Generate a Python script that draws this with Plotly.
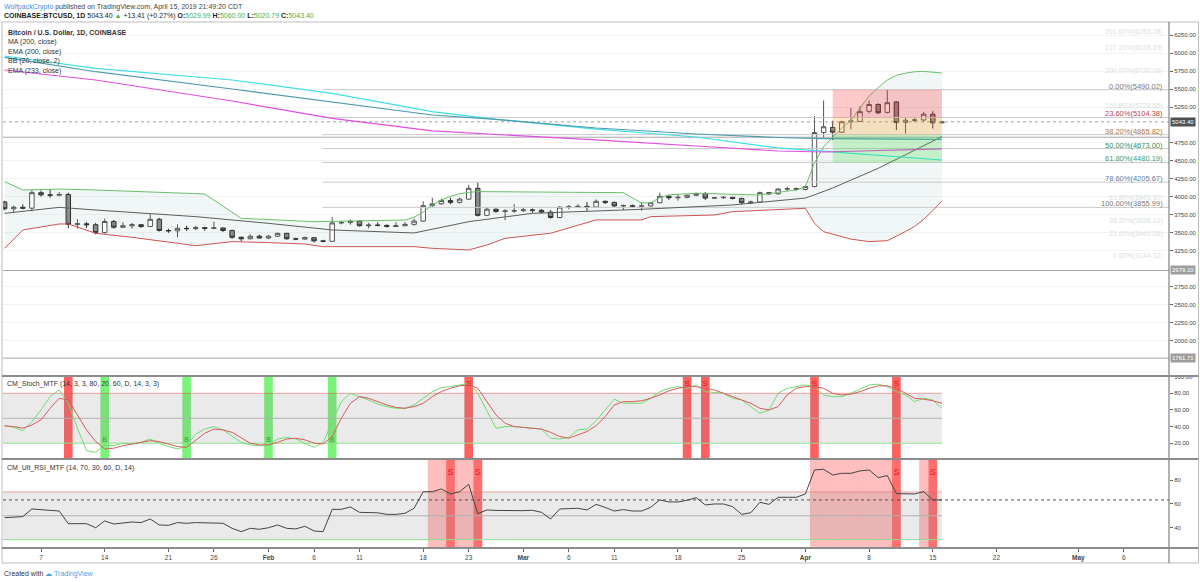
import plotly.graph_objects as go
import pandas as pd

FONT = "Liberation Sans, Arial, sans-serif"

# ------------------------------------------------------------------ data
DATES = pd.date_range("2019-01-03", "2019-04-16", freq="D").strftime("%Y-%m-%d").tolist()

OPEN = [
    3931, 3836, 3857, 3845, 4060, 4030, 4025, 4035, 3620, 3628, 3615, 3505, 3660, 3580, 3600,
    3615, 3590, 3690, 3535, 3530, 3565, 3560, 3575, 3565, 3570, 3535, 3440, 3420, 3455,
    3430, 3455, 3495, 3420, 3415, 3435, 3390, 3385, 3640, 3645, 3665, 3600, 3610, 3605,
    3590, 3600, 3620, 3665, 3880, 3905, 3950, 3925, 3970, 4120, 3745, 3830, 3800, 3805,
    3810, 3820, 3815, 3790, 3715, 3860, 3865, 3870, 3860, 3940, 3925, 3875, 3880, 3870, 3875,
    3920, 4010, 3990, 3995, 4025, 4045, 3985, 3990, 3995, 3980, 3920, 3930, 4060, 4045, 4110, 4115,
    4105, 4145, 4895, 4965, 4900, 5045, 5050, 5190, 5285, 5175, 5320, 5035, 5065, 5070, 5150, 5029.99,
]
HIGH = [
    3947, 3880, 3900, 4095, 4090, 4110, 4070, 4060, 3690, 3650, 3640, 3700, 3680, 3650, 3640,
    3625, 3760, 3710, 3560, 3620, 3600, 3600, 3585, 3660, 3580, 3545, 3450, 3480, 3475,
    3470, 3505, 3500, 3435, 3450, 3440, 3405, 3720, 3670, 3685, 3670, 3640, 3650, 3620,
    3650, 3650, 3700, 3940, 3990, 3980, 3990, 3990, 4170, 4200, 3860, 3840, 3830, 3900,
    3850, 3840, 3830, 3815, 3875, 3890, 3900, 3930, 3965, 3950, 3935, 3895, 3895, 3930, 3930,
    4060, 4020, 4040, 4030, 4060, 4070, 4000, 4010, 4000, 3990, 3950, 4075, 4070, 4125, 4140, 4130,
    4160, 5125, 5340, 5060, 5060, 5235, 5260, 5340, 5300, 5490, 5330, 5100, 5110, 5180, 5190, 5060.00,
]
LOW = [
    3817, 3790, 3830, 3800, 4005, 3990, 4010, 3565, 3560, 3570, 3480, 3490, 3560, 3570, 3560,
    3570, 3585, 3520, 3500, 3440, 3530, 3540, 3530, 3555, 3515, 3420, 3385, 3410, 3425,
    3415, 3445, 3405, 3400, 3405, 3370, 3370, 3375, 3620, 3615, 3590, 3565, 3590, 3575,
    3585, 3595, 3600, 3660, 3860, 3890, 3900, 3910, 3960, 3730, 3735, 3780, 3680, 3780,
    3795, 3780, 3770, 3700, 3705, 3830, 3850, 3800, 3855, 3900, 3860, 3820, 3850, 3810, 3865,
    3910, 3960, 3950, 3980, 4010, 3960, 3970, 3975, 3965, 3900, 3900, 3920, 4030, 4030, 4080, 4090,
    4090, 4135, 4810, 4790, 4890, 4940, 5045, 5160, 5150, 5160, 4930, 4880, 5040, 5040, 4950, 5020.79,
]
CLOSE = [
    3836, 3857, 3845, 4060, 4030, 4025, 4035, 3620, 3628, 3615, 3505, 3660, 3580, 3600, 3615,
    3590, 3690, 3535, 3530, 3565, 3560, 3575, 3565, 3570, 3535, 3440, 3420, 3455, 3430,
    3455, 3495, 3420, 3415, 3435, 3390, 3385, 3640, 3645, 3665, 3600, 3610, 3605, 3590,
    3600, 3620, 3665, 3880, 3905, 3950, 3925, 3970, 4120, 3745, 3830, 3800, 3805, 3810,
    3820, 3815, 3790, 3715, 3860, 3865, 3870, 3860, 3940, 3925, 3875, 3880, 3870, 3875, 3920,
    4010, 3990, 3995, 4025, 4045, 3985, 3990, 3995, 3980, 3920, 3930, 4060, 4045, 4110, 4115, 4105,
    4145, 4895, 4975, 4900, 5045, 5055, 5185, 5285, 5170, 5310, 5035, 5065, 5070, 5150, 5029.99, 5043.40,
]

STOCH_K = [
    41, 39, 35, 46, 60, 76, 84, 68, 38, 11, 9, 18, 17, 20, 19, 21, 25, 20, 16, 13, 17, 31, 37, 40, 36, 28, 21, 18, 17,
    18, 25, 27, 25, 20, 15, 21, 46, 70, 80, 76, 72, 67, 64, 62, 62, 66, 74, 82, 87, 88, 90, 92, 80, 58, 38, 40, 40,
    39, 38, 37, 26, 25, 27, 36, 37, 47, 60, 73, 68, 68, 68, 74, 82, 86, 88, 86, 90, 82, 81, 80, 74, 72, 64, 56, 60, 80, 86, 88,
    90, 88, 78, 76, 76, 80, 85, 90, 91, 88, 82, 78, 70, 74, 72, 62,
]
STOCH_D = [
    41, 40, 38, 42, 48, 62, 74, 72, 54, 36, 22, 13, 14, 17, 19, 21, 23, 22, 19, 16, 15, 23, 32, 37, 36, 33, 27, 20, 18,
    18, 21, 25, 26, 24, 20, 19, 28, 50, 68, 76, 74, 70, 66, 63, 62, 64, 68, 76, 82, 86, 89, 90, 86, 70, 54, 44, 40,
    39, 38, 37, 33, 28, 26, 30, 34, 41, 52, 66, 70, 70, 71, 74, 78, 83, 86, 88, 88, 86, 84, 80, 76, 72, 68, 62, 60, 64, 78, 86,
    88, 88, 86, 80, 78, 79, 82, 86, 89, 89, 86, 80, 74, 73, 71, 68,
]
RSI = [
    48.4, 48.8, 49.3, 55.7, 55.0, 54.6, 54.0, 43.4, 43.4, 43.4, 40.0, 45.7, 43.1, 44.0, 44.8,
    44.3, 47.3, 42.3, 42.0, 44.3, 43.7, 44.3, 44.0, 43.9, 43.7, 39.5, 36.7, 39.5, 38.7,
    40.0, 42.3, 39.5, 39.0, 41.2, 37.3, 36.7, 55.4, 55.4, 57.4, 52.9, 52.9, 52.5, 51.2,
    51.2, 52.1, 56.3, 70.2, 70.2, 72.5, 68.3, 70.2, 76.4, 51.8, 54.9, 54.5, 54.3, 54.0,
    54.3, 54.6, 52.9, 47.3, 55.7, 56.0, 56.3, 54.9, 59.6, 57.0, 54.0, 55.2, 54.0, 54.0, 57.1,
    63.3, 61.6, 61.6, 63.0, 65.2, 59.1, 59.9, 59.9, 57.7, 51.2, 52.6, 61.3, 59.6, 65.5, 65.5, 65.5,
    68.3, 88.4, 89.0, 84.2, 85.6, 85.6, 87.6, 88.4, 82.0, 83.7, 68.6, 68.3, 68.3, 70.2, 63.3, 63.3,
]

BB_UPPER_DATES = ["2019-01-03", "2019-01-05", "2019-01-09", "2019-01-13", "2019-01-25", "2019-01-29",
                  "2019-02-06", "2019-02-16", "2019-02-17", "2019-02-18", "2019-02-19", "2019-02-20",
                  "2019-02-21", "2019-02-22", "2019-02-23", "2019-02-24", "2019-03-12", "2019-03-13",
                  "2019-03-14", "2019-03-15", "2019-03-16", "2019-03-17", "2019-03-20", "2019-03-27",
                  "2019-03-31", "2019-04-01", "2019-04-02", "2019-04-03", "2019-04-04", "2019-04-05",
                  "2019-04-06", "2019-04-07", "2019-04-08", "2019-04-09", "2019-04-10", "2019-04-11",
                  "2019-04-12", "2019-04-13", "2019-04-14", "2019-04-15", "2019-04-16"]
BB_UPPER = [4213, 4097, 4110, 4097, 4042, 3704, 3657, 3680, 3720, 3790, 3890, 3960, 4010, 4045, 4065,
            4075, 4060, 3990, 3917, 3920, 3990, 4030, 4052, 4028, 4100, 4143, 4472, 4699, 4830, 4960,
            5060, 5240, 5400, 5520, 5625, 5690, 5720, 5740, 5745, 5730, 5722]
BB_BASIS_DATES = ["2019-01-03", "2019-01-06", "2019-01-09", "2019-01-13", "2019-01-24", "2019-02-01",
                  "2019-02-08", "2019-02-17", "2019-02-23", "2019-03-02", "2019-03-14", "2019-03-24",
                  "2019-04-01", "2019-04-02", "2019-04-03", "2019-04-04", "2019-04-09", "2019-04-16"]
BB_BASIS = [3773, 3810, 3856, 3819, 3727, 3634, 3542, 3500, 3657, 3773, 3829, 3889, 3985, 4030, 4075,
            4125, 4398, 4838]
BB_LOWER_DATES = ["2019-01-03", "2019-01-05", "2019-01-09", "2019-01-10", "2019-01-13", "2019-01-17",
                  "2019-01-24", "2019-01-28", "2019-02-01", "2019-02-05", "2019-02-07", "2019-02-17",
                  "2019-02-19", "2019-02-23", "2019-02-25", "2019-02-27", "2019-03-04", "2019-03-07",
                  "2019-03-09", "2019-03-14", "2019-03-15", "2019-03-22", "2019-03-24", "2019-04-01",
                  "2019-04-02", "2019-04-03", "2019-04-05", "2019-04-06", "2019-04-08", "2019-04-10",
                  "2019-04-12", "2019-04-13", "2019-04-14", "2019-04-15", "2019-04-16"]
BB_LOWER = [3287, 3542, 3625, 3625, 3496, 3440, 3324, 3380, 3366, 3347, 3310, 3310, 3287, 3264, 3333,
            3426, 3496, 3611, 3681, 3681, 3727, 3750, 3796, 3843, 3634, 3518, 3445, 3415, 3380, 3393,
            3520, 3590, 3690, 3810, 3945]

MA_DATES = ["2019-01-03", "2019-01-13", "2019-01-28", "2019-02-08", "2019-02-19", "2019-02-26",
            "2019-03-09", "2019-03-20", "2019-03-29", "2019-04-03", "2019-04-16"]
MA200 = [5958, 5787, 5625, 5440, 5185, 5079, 4944, 4833, 4681, 4632, 4514]
EMA200 = [5940, 5740, 5500, 5324, 5139, 5079, 4958, 4875, 4826, 4812, 4799]
EMA233 = [5764, 5625, 5333, 5093, 4917, 4871, 4792, 4708, 4639, 4625, 4667]

FIB_LEVELS = ["0.00%", "23.60%", "38.20%", "50.00%", "61.80%", "78.60%", "100.00%"]
FIB_PRICES = [5490.02, 5104.38, 4865.82, 4673.00, 4480.19, 4205.67, 3855.99]
FIB_START = "2019-02-06 22:00"
ZONE_START = "2019-04-04"

EXT_LEVELS = ["261.80%", "227.20%", "200.00%", "161.80%", "61.80%", "38.20%", "23.60%", "0.00%"]
EXT_PRICES = [6253.28, 6035.39, 5720.06, 5228.65, 3945.30, 3626.12, 3446.08, 3144.12]

HLINE_PRICES = [4830.0, 2979.10, 1761.71]
HLINE_LABELED = [2979.10, 1761.71]

STOCH_SELL = ["2019-01-10", "2019-02-23", "2019-03-19", "2019-03-21", "2019-04-02", "2019-04-11"]
STOCH_SELL_MARKED = ["2019-02-23", "2019-03-19", "2019-03-21", "2019-04-02", "2019-04-11"]
STOCH_BUY = ["2019-01-14", "2019-01-23", "2019-02-01", "2019-02-08"]
RSI_ZONE = ["2019-02-19", "2019-02-20", "2019-02-21", "2019-02-22", "2019-02-23", "2019-02-24",
            "2019-04-02", "2019-04-03", "2019-04-04", "2019-04-05", "2019-04-06", "2019-04-07",
            "2019-04-08", "2019-04-09", "2019-04-10", "2019-04-11", "2019-04-14", "2019-04-15"]
RSI_SELL = ["2019-02-21", "2019-02-24", "2019-04-11", "2019-04-15"]

STOCH_LEVELS = [80, 50, 20]
RSI_LEVELS = [70, 50, 30]

PRICE_TICKS = [6250, 6000, 5750, 5500, 5250, 4750, 4500, 4250, 4000, 3750, 3500, 3250, 2750, 2500, 2250, 2000]
STOCH_TICKS = [100, 80, 60, 40, 20]
RSI_TICKS = [80, 60, 40]

TICK_DATES = ["2019-01-07", "2019-01-14", "2019-01-21", "2019-01-26", "2019-02-01", "2019-02-06",
              "2019-02-11", "2019-02-18", "2019-02-23", "2019-03-01", "2019-03-06", "2019-03-11",
              "2019-03-18", "2019-03-25", "2019-04-01", "2019-04-08", "2019-04-15", "2019-04-22",
              "2019-05-01", "2019-05-06"]
TICK_TEXT = ["7", "14", "21", "26", "<b>Feb</b>", "6", "11", "18", "23", "<b>Mar</b>", "6", "11",
             "18", "25", "<b>Apr</b>", "8", "15", "22", "<b>May</b>", "6"]

X_START = "2019-01-02 19:45"
X_END = "2019-05-10 23:00"

# ------------------------------------------------------------------ styles
DAY_MS = 86400000
MAIN_BOTTOM = (548 - 376) / 525
RSI_TOP = (548 - 459) / 525
FIB_LABEL_COLORS = ["#7a7a7a", "#b04848", "#b4763c", "#3c8c5c", "#3f9c72", "#5f7f9c", "#7a7a7a"]
ZONE_COLORS = ["rgba(255,40,40,0.25)", "rgba(255,150,30,0.25)", "rgba(40,215,40,0.22)", "rgba(40,215,40,0.22)"]
STOCH_LEVEL_COLORS = ["rgba(230,90,90,0.55)", "#b0b0b0", "#8fe08f"]
RSI_LEVEL_COLORS = ["rgba(225,110,110,0.6)", "#b0b0b0", "#8fe08f"]


def px_x(x):
    return (x - 3) / 1166


def px_y(y):
    return (548 - y) / 525


fig = go.Figure()

# Bollinger band fill
fig.add_trace(go.Scatter(
    x=BB_UPPER_DATES + BB_LOWER_DATES[::-1], y=BB_UPPER + BB_LOWER[::-1],
    fill="toself", fillcolor="rgba(120,175,175,0.10)", line=dict(width=0),
    mode="lines", hoverinfo="skip", zorder=-1))

# candles
fig.add_trace(go.Candlestick(
    x=DATES, open=OPEN, high=HIGH, low=LOW, close=CLOSE,
    increasing=dict(line=dict(color="#555555", width=1), fillcolor="#ffffff"),
    decreasing=dict(line=dict(color="#333333", width=1), fillcolor="#8a8a8a"),
    whiskerwidth=0, hoverinfo="skip"))

# fib lines
fx, fy = [], []
for p in FIB_PRICES:
    fx += [FIB_START, X_END, None]
    fy += [p, p, None]
fig.add_trace(go.Scatter(x=fx, y=fy, mode="lines", line=dict(color="#cacaca", width=1), hoverinfo="skip"))

# full width horizontal lines
hx, hy = [], []
for p in HLINE_PRICES:
    hx += [X_START, X_END, None]
    hy += [p, p, None]
fig.add_trace(go.Scatter(x=hx, y=hy, mode="lines", line=dict(color="#a8a8a8", width=1), hoverinfo="skip"))

# last price line
fig.add_trace(go.Scatter(x=[X_START, X_END], y=[CLOSE[-1], CLOSE[-1]], mode="lines",
                         line=dict(color="#a0a0a0", width=1, dash="dot"), hoverinfo="skip"))

# bollinger lines
fig.add_trace(go.Scatter(x=BB_UPPER_DATES, y=BB_UPPER, mode="lines", line=dict(color="#6cbf6c", width=1), hoverinfo="skip"))
fig.add_trace(go.Scatter(x=BB_LOWER_DATES, y=BB_LOWER, mode="lines", line=dict(color="#cc5555", width=1), hoverinfo="skip"))
fig.add_trace(go.Scatter(x=BB_BASIS_DATES, y=BB_BASIS, mode="lines", line=dict(color="#5e5e5e", width=1), hoverinfo="skip"))

# moving averages
fig.add_trace(go.Scatter(x=MA_DATES, y=MA200, mode="lines", line=dict(color="#40dfe6", width=1.2), hoverinfo="skip"))
fig.add_trace(go.Scatter(x=MA_DATES, y=EMA200, mode="lines", line=dict(color="#4f9aab", width=1.2), hoverinfo="skip"))
fig.add_trace(go.Scatter(x=MA_DATES, y=EMA233, mode="lines", line=dict(color="#e24de2", width=1.2), hoverinfo="skip"))

# ---------------- stochastic panel
fig.add_trace(go.Bar(x=STOCH_SELL, y=[101] * len(STOCH_SELL), base=0, width=DAY_MS * 0.95,
                     marker=dict(color="rgba(255,35,35,0.72)", line=dict(width=0)), yaxis="y2", hoverinfo="skip"))
fig.add_trace(go.Bar(x=STOCH_BUY, y=[101] * len(STOCH_BUY), base=0, width=DAY_MS * 0.95,
                     marker=dict(color="rgba(40,235,40,0.62)", line=dict(width=0)), yaxis="y2", hoverinfo="skip"))
fig.add_trace(go.Scatter(x=[X_START, DATES[-1], DATES[-1], X_START],
                         y=[STOCH_LEVELS[2], STOCH_LEVELS[2], STOCH_LEVELS[0], STOCH_LEVELS[0]],
                         fill="toself", fillcolor="rgba(128,128,128,0.17)", line=dict(width=0),
                         mode="lines", yaxis="y2", hoverinfo="skip"))
for lv, col in zip(STOCH_LEVELS, STOCH_LEVEL_COLORS):
    fig.add_trace(go.Scatter(x=[X_START, DATES[-1]], y=[lv, lv], mode="lines",
                             line=dict(color=col, width=1), yaxis="y2", hoverinfo="skip"))
fig.add_trace(go.Scatter(x=DATES, y=STOCH_K, mode="lines", line=dict(color="#72dc72", width=1), yaxis="y2", hoverinfo="skip"))
fig.add_trace(go.Scatter(x=DATES, y=STOCH_D, mode="lines", line=dict(color="#d85c5c", width=1), yaxis="y2", hoverinfo="skip"))
fig.add_trace(go.Scatter(x=STOCH_SELL_MARKED, y=[91] * len(STOCH_SELL_MARKED), mode="text",
                         text=["S"] * len(STOCH_SELL_MARKED),
                         textfont=dict(color="#d81818", size=8, family=FONT), yaxis="y2", hoverinfo="skip"))
fig.add_trace(go.Scatter(x=STOCH_BUY, y=[23] * len(STOCH_BUY), mode="text", text=["B"] * len(STOCH_BUY),
                         textfont=dict(color="#2aa82a", size=7, family=FONT), yaxis="y2", hoverinfo="skip"))

# ---------------- RSI panel
fig.add_trace(go.Bar(x=RSI_ZONE, y=[100] * len(RSI_ZONE), base=0, width=DAY_MS,
                     marker=dict(color="rgba(255,40,40,0.30)", line=dict(width=0)), yaxis="y3", hoverinfo="skip"))
fig.add_trace(go.Bar(x=RSI_SELL, y=[100] * len(RSI_SELL), base=0, width=DAY_MS * 0.95,
                     marker=dict(color="rgba(255,30,30,0.50)", line=dict(width=0)), yaxis="y3", hoverinfo="skip"))
fig.add_trace(go.Scatter(x=[X_START, DATES[-1], DATES[-1], X_START],
                         y=[RSI_LEVELS[2], RSI_LEVELS[2], RSI_LEVELS[0], RSI_LEVELS[0]],
                         fill="toself", fillcolor="rgba(128,128,128,0.17)", line=dict(width=0),
                         mode="lines", yaxis="y3", hoverinfo="skip"))
for lv, col in zip(RSI_LEVELS, RSI_LEVEL_COLORS):
    fig.add_trace(go.Scatter(x=[X_START, DATES[-1]], y=[lv, lv], mode="lines",
                             line=dict(color=col, width=1), yaxis="y3", hoverinfo="skip"))
fig.add_trace(go.Scatter(x=[X_START, X_END], y=[RSI[-1], RSI[-1]], mode="lines",
                         line=dict(color="#555555", width=1, dash="dot"), yaxis="y3", hoverinfo="skip"))
fig.add_trace(go.Scatter(x=DATES, y=RSI, mode="lines", line=dict(color="#444444", width=1), yaxis="y3", hoverinfo="skip"))
fig.add_trace(go.Scatter(x=RSI_SELL, y=[86] * len(RSI_SELL), mode="text", text=["S"] * len(RSI_SELL),
                         textfont=dict(color="#e01a1a", size=9, family=FONT), yaxis="y3", hoverinfo="skip"))

# ---------------- shapes
shapes = []
for i, col in enumerate(ZONE_COLORS):
    shapes.append(dict(type="rect", xref="x", yref="y", x0=ZONE_START, x1=DATES[-1],
                       y0=FIB_PRICES[i + 1], y1=FIB_PRICES[i], fillcolor=col, line=dict(width=0), layer="above"))
shapes.append(dict(type="rect", xref="paper", yref="paper", x0=px_x(2), x1=px_x(1198.5),
                   y0=px_y(563), y1=px_y(22), line=dict(color="#bdbdbd", width=1), layer="above"))
shapes.append(dict(type="line", xref="paper", yref="paper", x0=1, x1=1, y0=px_y(563), y1=px_y(22),
                   line=dict(color="#666666", width=1), layer="above"))
for yy in [376, 459, 548]:
    shapes.append(dict(type="line", xref="paper", yref="paper", x0=px_x(2), x1=px_x(1198.5),
                       y0=px_y(yy), y1=px_y(yy), line=dict(color="#8c8c8c", width=2), layer="above"))

# ---------------- annotations
annotations = []


def ann(x, y, text, size=7, color="#333333", xref="paper", yref="paper", xanchor="left", **kw):
    annotations.append(dict(x=x, y=y, xref=xref, yref=yref, text=text, showarrow=False,
                            xanchor=xanchor, yanchor="middle",
                            font=dict(size=size, color=color, family=FONT), **kw))


G = "#4caf50"
chg = CLOSE[-1] - CLOSE[-2]
pct = chg / CLOSE[-2] * 100
ann(px_x(2), px_y(6.5),
    '<span style="color:#3d8fd6">WolfpackCrypto</span> published on TradingView.com, April 15, 2019 21:49:20 CDT',
    size=7, color="#444444")
ann(px_x(2), px_y(15.5),
    f'<b>COINBASE:BTCUSD, 1D</b> {CLOSE[-1]:.2f} <span style="color:{G}">▲</span> +{chg:.2f} (+{pct:.2f}%) '
    f'<b>O:</b><span style="color:{G}">{OPEN[-1]:.2f}</span> <b>H:</b><span style="color:{G}">{HIGH[-1]:.2f}</span> '
    f'<b>L:</b><span style="color:{G}">{LOW[-1]:.2f}</span> <b>C:</b><span style="color:{G}">{CLOSE[-1]:.2f}</span>',
    size=7, color="#222222")

LEGEND = ["<b>Bitcoin / U.S. Dollar, 1D, COINBASE</b>", "MA (200, close)", "EMA (200, close)",
          "BB (20, close, 2)", "EMA (233, close)"]
for i, t in enumerate(LEGEND):
    ann(px_x(6), px_y(32.7 + i * 9.5), t, size=7, color="#333333")

ann(px_x(5), px_y(384), "CM_Stoch_MTF (14, 3, 3, 80, 20, 60, D, 14, 3, 3)", size=7, color="#333333")
ann(px_x(5), px_y(468), "CM_Ult_RSI_MTF (14, 70, 30, 60, D, 14)", size=7, color="#333333")
ann(px_x(2), px_y(574), 'Created with <span style="color:#4aa3df">☁ TradingView</span>', size=7, color="#333333")

for lvl, p, col in zip(FIB_LEVELS, FIB_PRICES, FIB_LABEL_COLORS):
    ann(X_END, p, f"{lvl}({p:.2f})", size=7.5, color=col, xref="x", yref="y", xanchor="right",
        xshift=-4, yshift=3.5)
for lvl, p in zip(EXT_LEVELS, EXT_PRICES):
    ann(X_END, p, f"{lvl}({p:.2f})", size=7, color="#dedede", xref="x", yref="y", xanchor="right",
        xshift=-4, yshift=2.5)

ann(1, CLOSE[-1], f"{CLOSE[-1]:.2f}", size=6, color="#ffffff", yref="y", bgcolor="#505050", borderpad=1, xshift=1)
for p in HLINE_LABELED:
    ann(1, p, f"{p:.2f}", size=6, color="#ffffff", yref="y", bgcolor="#9e9e9e", borderpad=1, xshift=1)

axis_common = dict(side="right", anchor="x", ticks="outside", ticklen=3, tickcolor="#666666",
                   zeroline=False, showline=False, fixedrange=True,
                   tickfont=dict(size=6, color="#444444", family=FONT))

fig.update_layout(
    width=1200, height=582,
    margin=dict(l=3, r=31, t=23, b=34),
    paper_bgcolor="white", plot_bgcolor="white",
    showlegend=False, hovermode=False, barmode="overlay",
    font=dict(family=FONT, size=7, color="#333333"),
    xaxis=dict(type="date", range=[X_START, X_END], anchor="y3", tickmode="array",
               tickvals=TICK_DATES, ticktext=TICK_TEXT, ticks="outside", ticklen=3, tickcolor="#666666",
               tickfont=dict(size=6.5, color="#444444", family=FONT), showgrid=False, zeroline=False,
               showline=False, rangeslider=dict(visible=False), fixedrange=True),
    yaxis=dict(domain=[MAIN_BOTTOM, 1], range=[1513.5, 6416.7], tickmode="array", tickvals=PRICE_TICKS,
               ticktext=[f"{v:.2f}" for v in PRICE_TICKS], showgrid=True, gridcolor="#f3f3f3", **axis_common),
    yaxis2=dict(domain=[RSI_TOP, MAIN_BOTTOM], range=[1, 100.8], tickmode="array", tickvals=STOCH_TICKS,
                ticktext=[f"{v:.2f}" for v in STOCH_TICKS], showgrid=False, **axis_common),
    yaxis3=dict(domain=[0, RSI_TOP], range=[23, 97.6], tickmode="array", tickvals=RSI_TICKS,
                ticktext=[str(v) for v in RSI_TICKS], showgrid=False, **axis_common),
    shapes=shapes, annotations=annotations,
)

fig.write_html("out.html", config={"displayModeBar": False},
               post_script="document.body.style.margin='0';document.body.style.padding='0';")
